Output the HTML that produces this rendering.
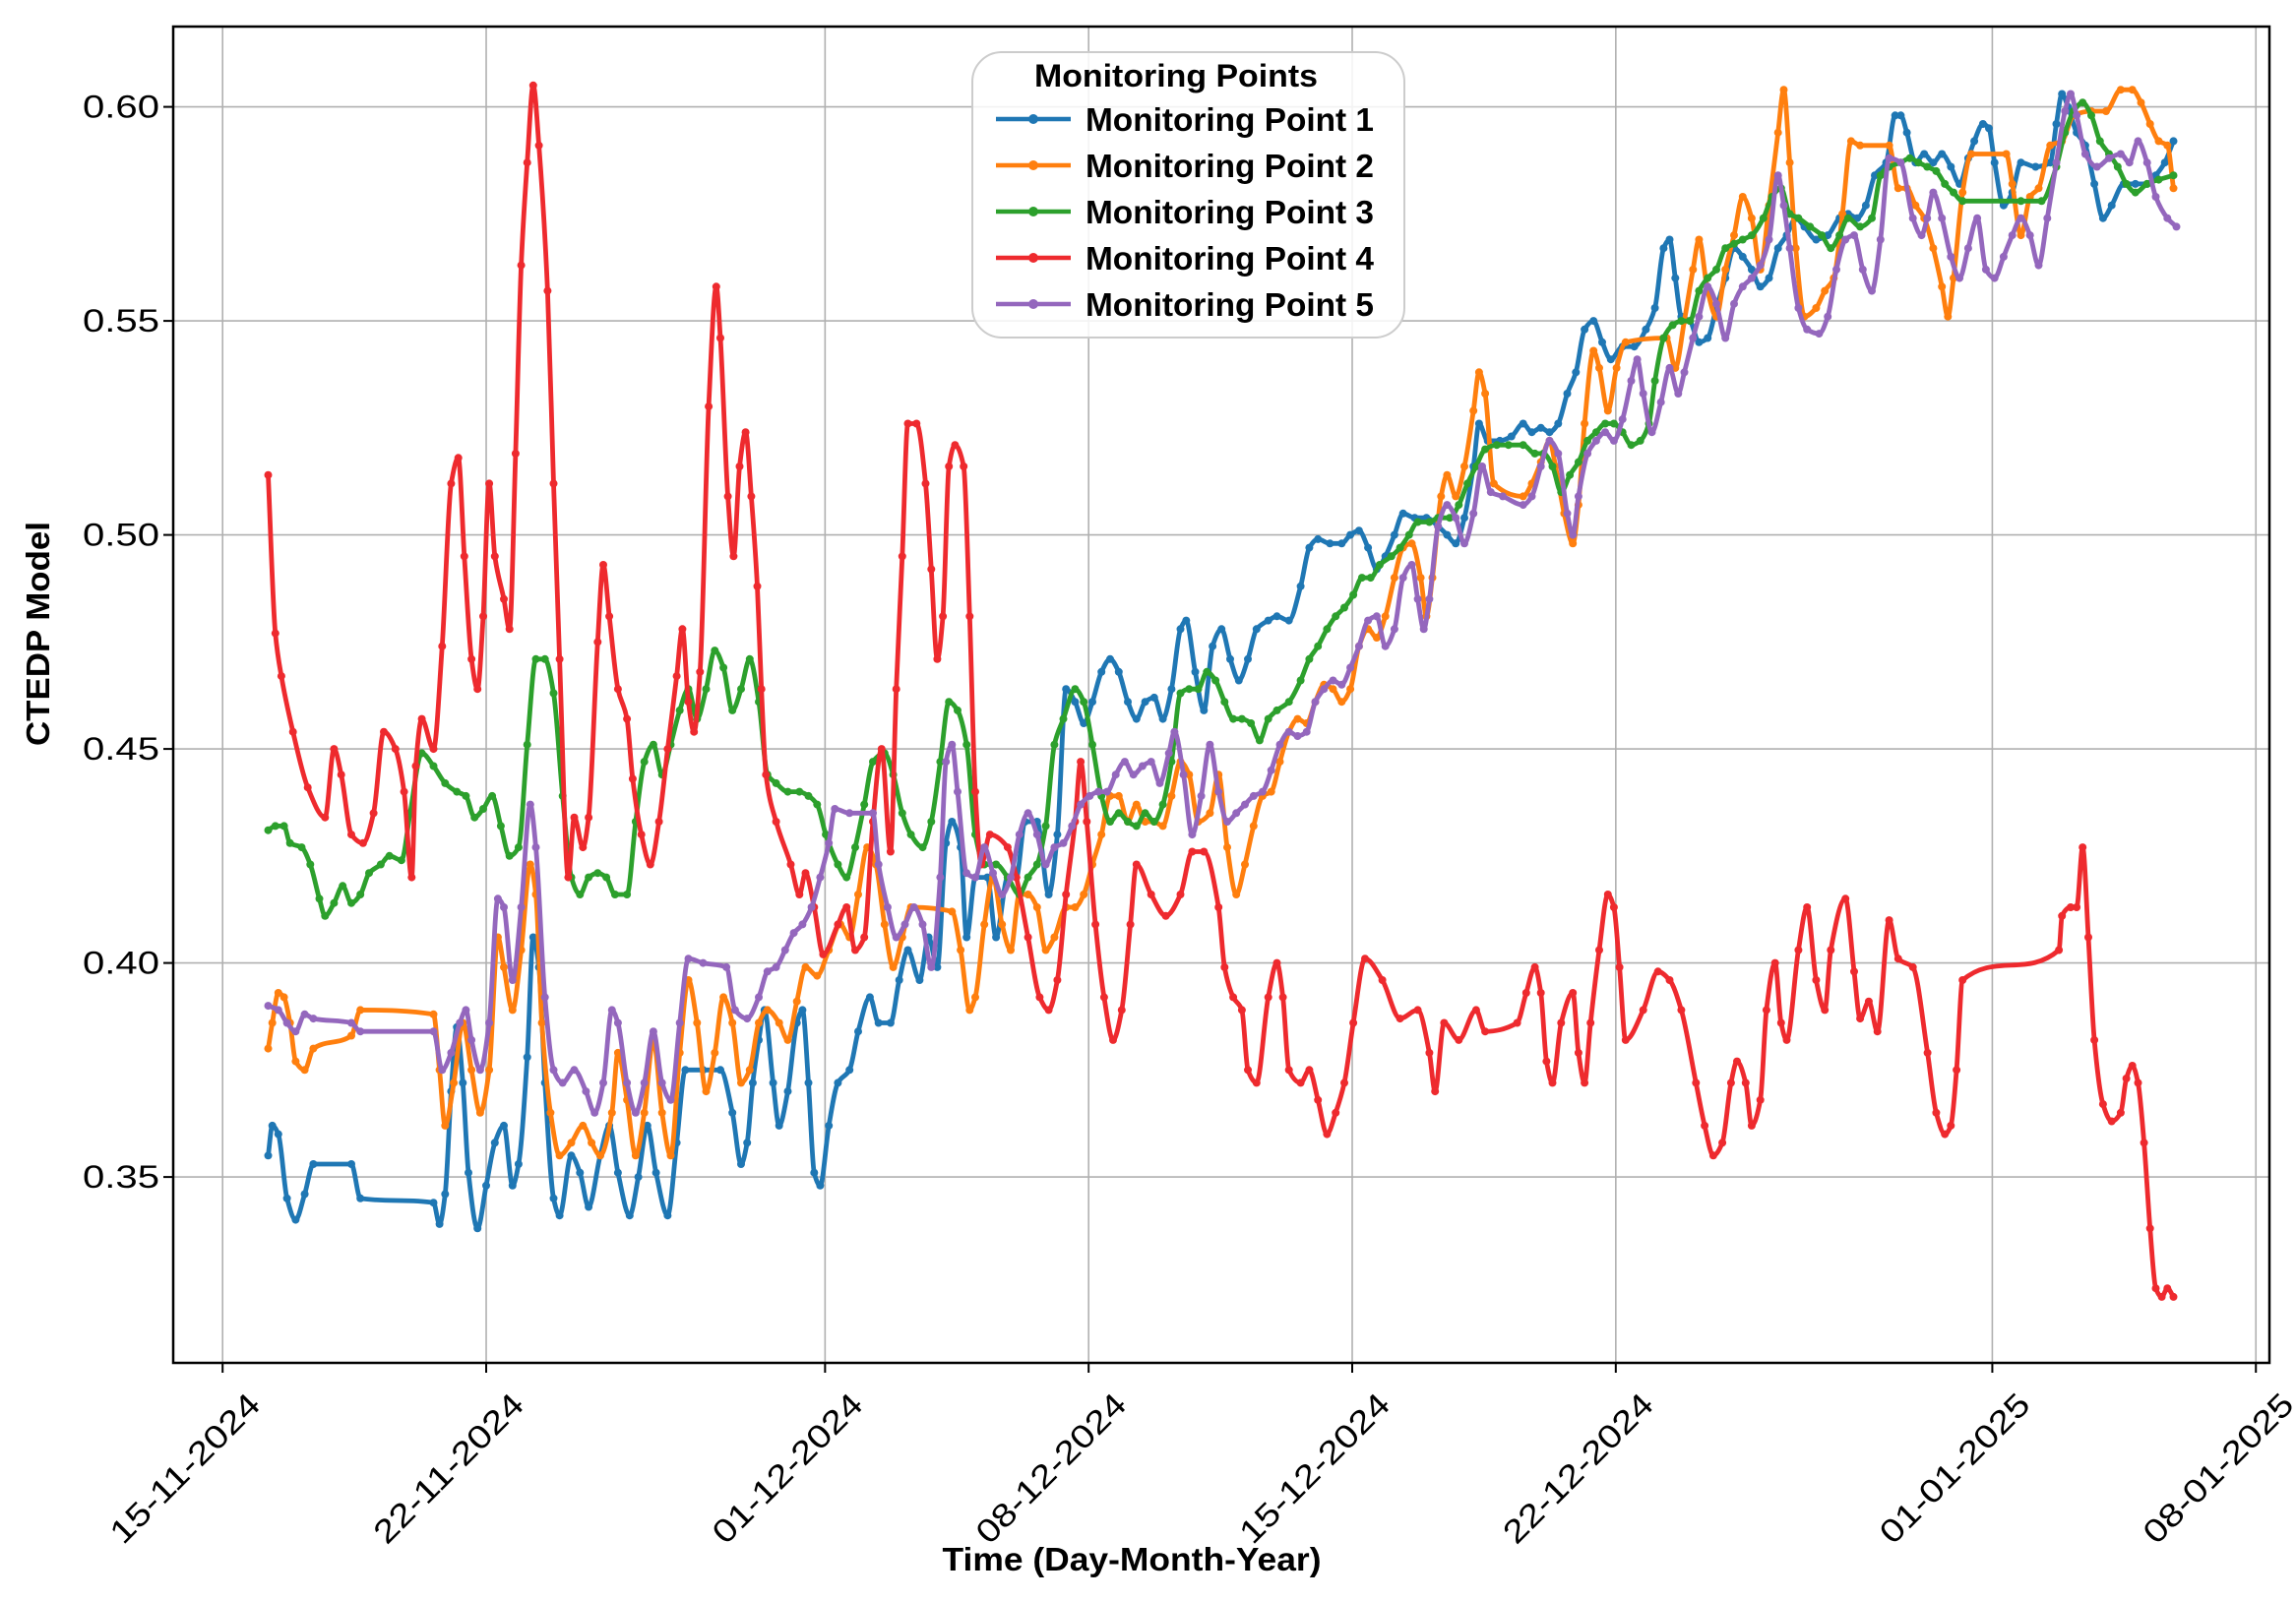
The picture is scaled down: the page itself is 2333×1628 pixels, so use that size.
<!DOCTYPE html>
<html><head><meta charset="utf-8"><title>CTEDP Model</title>
<style>html,body{margin:0;padding:0;background:#fff}svg{display:block;font-family:"Liberation Sans",sans-serif}</style>
</head><body>
<svg id="chart" width="2333" height="1628" viewBox="0 0 2333 1628" xmlns="http://www.w3.org/2000/svg">
<rect x="0" y="0" width="2333" height="1628" fill="#fff"/>
<g id="grid"></g>
<g id="series"></g>
<rect x="176" y="27" width="2130" height="1358" fill="none" stroke="#000" stroke-width="2.5"/>
<g id="axes"></g>
<text x="1150" y="1596" text-anchor="middle" font-size="33" font-weight="bold" textLength="385" lengthAdjust="spacingAndGlyphs">Time (Day-Month-Year)</text>
<text transform="translate(50,644) rotate(-90)" text-anchor="middle" font-size="33" font-weight="bold" textLength="228" lengthAdjust="spacingAndGlyphs">CTEDP Model</text>
<g id="legend">
<rect x="988" y="53" width="439" height="290" rx="30" fill="#fff" fill-opacity="0.85" stroke="#ccc" stroke-width="2"/>
<text x="1051" y="88" font-size="32" font-weight="bold" textLength="288" lengthAdjust="spacingAndGlyphs">Monitoring Points</text>
</g>
</svg>
<script>
const dateTickLabels=["15-11-2024","22-11-2024","01-12-2024","08-12-2024","15-12-2024","22-12-2024","01-01-2025","08-01-2025"];
const dateTickDays=[0,7,16,23,30,37,47,54];
const valueTicks=[0.35,0.40,0.45,0.50,0.55,0.60];
const seriesNames=["Monitoring Point 1","Monitoring Point 2","Monitoring Point 3","Monitoring Point 4","Monitoring Point 5"];
const seriesColors=["#1f77b4","#ff7f0e","#2ca02c","#ee2a2e","#9467bd"];

const mp1Days=[1.21,1.32,1.48,1.71,1.94,2.18,2.41,3.42,3.66,5.60,5.76,5.91,6.07,6.22,6.38,6.53,6.77,7.00,7.23,7.47,7.70,7.86,8.09,8.25,8.40,8.56,8.79,8.95,9.26,9.49,9.72,10.03,10.27,10.50,10.81,11.04,11.28,11.51,11.82,12.06,12.29,12.76,13.22,13.54,13.77,13.93,14.08,14.24,14.39,14.62,14.78,15.01,15.25,15.40,15.56,15.71,15.87,16.10,16.34,16.65,16.88,17.19,17.42,17.74,17.97,18.20,18.51,18.75,18.98,19.21,19.37,19.60,19.76,19.99,20.31,20.54,20.85,21.08,21.31,21.63,21.94,22.17,22.40,22.64,22.87,23.10,23.34,23.57,23.80,24.04,24.27,24.50,24.74,24.97,25.20,25.44,25.59,25.83,26.06,26.29,26.53,26.76,26.99,27.23,27.46,27.77,28.00,28.32,28.63,28.86,29.09,29.41,29.72,29.95,30.18,30.42,30.65,30.88,31.12,31.35,31.66,31.97,32.28,32.52,32.75,32.98,33.22,33.37,33.60,33.92,34.23,34.54,34.77,35.01,35.24,35.47,35.71,35.94,36.17,36.41,36.64,36.87,37.18,37.49,37.80,38.04,38.27,38.43,38.58,38.74,38.97,39.21,39.44,39.67,39.91,40.14,40.37,40.61,40.84,41.07,41.31,41.54,41.78,42.01,42.32,42.63,42.94,43.17,43.41,43.64,43.88,44.18,44.42,44.57,44.73,44.96,45.19,45.43,45.66,45.90,46.13,46.36,46.52,46.75,46.91,47.06,47.30,47.53,47.76,48.15,48.54,48.70,48.85,49.01,49.24,49.47,49.71,49.94,50.17,50.49,50.80,51.11,51.34,51.58,51.81];
const mp1Values=[.355,.362,.360,.345,.340,.346,.353,.353,.345,.344,.339,.346,.370,.385,.372,.351,.338,.348,.358,.362,.348,.353,.378,.406,.399,.372,.345,.341,.355,.351,.343,.355,.362,.351,.341,.350,.362,.351,.341,.358,.375,.375,.375,.365,.353,.358,.372,.382,.389,.372,.362,.370,.386,.389,.372,.351,.348,.362,.372,.375,.384,.392,.386,.386,.396,.403,.396,.406,.399,.428,.433,.427,.406,.420,.420,.406,.420,.420,.433,.433,.416,.430,.464,.461,.456,.461,.468,.471,.468,.461,.457,.461,.462,.457,.464,.478,.480,.468,.459,.474,.478,.471,.466,.471,.478,.480,.481,.480,.488,.497,.499,.498,.498,.500,.501,.497,.492,.495,.500,.505,.504,.504,.502,.500,.498,.504,.516,.526,.522,.522,.523,.526,.524,.525,.524,.526,.533,.538,.548,.550,.545,.541,.544,.544,.548,.553,.567,.569,.560,.551,.550,.545,.546,.553,.560,.567,.565,.562,.558,.560,.567,.570,.574,.572,.569,.570,.574,.575,.574,.577,.584,.587,.598,.598,.594,.587,.589,.587,.589,.586,.582,.588,.592,.596,.595,.587,.577,.580,.587,.586,.587,.596,.603,.600,.594,.591,.582,.574,.577,.582,.582,.582,.584,.587,.592];

const mp2Days=[1.21,1.32,1.48,1.63,1.79,1.94,2.18,2.41,3.42,3.66,5.60,5.76,5.91,6.14,6.38,6.61,6.84,7.08,7.31,7.47,7.70,7.93,8.17,8.32,8.48,8.71,8.95,9.26,9.57,9.80,10.03,10.34,10.50,10.74,10.97,11.20,11.44,11.67,11.90,12.14,12.37,12.60,12.84,13.07,13.30,13.54,13.77,14.00,14.24,14.47,14.78,15.01,15.25,15.48,15.79,16.10,16.41,16.65,16.88,17.12,17.35,17.58,17.81,18.05,18.28,19.37,19.60,19.84,19.99,20.23,20.46,20.70,20.93,21.16,21.39,21.63,21.86,22.09,22.40,22.64,22.87,23.10,23.34,23.57,23.80,24.04,24.27,24.50,24.74,24.97,25.20,25.44,25.67,25.91,26.22,26.45,26.68,26.92,27.15,27.38,27.62,27.85,28.08,28.32,28.55,28.79,29.02,29.25,29.49,29.72,29.95,30.18,30.42,30.65,30.88,31.12,31.35,31.58,31.82,31.97,32.13,32.36,32.52,32.75,32.98,33.22,33.37,33.53,33.76,34.54,34.77,35.01,35.24,35.40,35.63,35.86,36.01,36.17,36.41,36.56,36.79,37.02,37.26,38.35,38.58,38.82,39.05,39.21,39.44,39.67,39.91,40.14,40.37,40.61,40.84,41.07,41.31,41.46,41.62,41.78,42.01,42.32,42.55,42.79,43.02,43.25,43.49,44.26,44.50,44.73,44.96,45.19,45.43,45.66,45.82,45.97,46.21,46.44,47.37,47.53,47.76,48.00,48.23,48.54,48.85,49.16,49.63,50.02,50.41,50.72,50.95,51.19,51.42,51.65,51.81];
const mp2Values=[.380,.386,.393,.392,.386,.377,.375,.380,.383,.389,.388,.375,.362,.372,.386,.375,.365,.375,.406,.399,.389,.403,.423,.416,.386,.365,.355,.358,.362,.358,.355,.365,.379,.368,.355,.365,.382,.365,.355,.379,.396,.386,.370,.379,.392,.386,.372,.375,.386,.389,.386,.382,.391,.399,.397,.403,.409,.406,.416,.427,.423,.409,.399,.406,.413,.412,.403,.389,.392,.409,.420,.409,.403,.416,.416,.413,.403,.406,.413,.413,.416,.423,.430,.439,.439,.433,.437,.433,.433,.432,.439,.447,.444,.433,.435,.444,.427,.416,.423,.432,.439,.440,.447,.454,.457,.456,.461,.465,.464,.461,.464,.474,.478,.476,.481,.490,.497,.498,.490,.481,.490,.509,.514,.509,.516,.529,.538,.533,.512,.509,.512,.517,.522,.516,.505,.498,.507,.526,.543,.539,.529,.539,.545,.546,.539,.550,.562,.569,.557,.551,.562,.570,.579,.574,.562,.577,.594,.604,.587,.567,.551,.553,.557,.560,.575,.592,.591,.591,.581,.581,.577,.574,.567,.558,.551,.560,.580,.589,.589,.582,.570,.579,.581,.591,.592,.598,.599,.599,.604,.604,.601,.596,.592,.591,.581];

const mp3Days=[1.21,1.40,1.63,1.79,2.10,2.33,2.57,2.72,2.96,3.19,3.42,3.66,3.89,4.20,4.43,4.75,4.98,5.29,5.60,5.91,6.22,6.46,6.69,6.92,7.16,7.39,7.62,7.86,8.09,8.32,8.56,8.79,9.03,9.26,9.49,9.72,9.96,10.19,10.42,10.74,10.97,11.20,11.44,11.67,11.90,12.14,12.37,12.60,12.84,13.07,13.30,13.54,13.77,14.00,14.24,14.47,14.70,15.01,15.32,15.56,15.79,16.02,16.34,16.57,16.80,17.04,17.27,17.58,17.81,18.05,18.28,18.59,18.82,19.06,19.29,19.52,19.76,19.99,20.23,20.54,20.85,21.16,21.39,21.63,21.86,22.09,22.33,22.64,22.87,23.10,23.34,23.57,23.80,24.04,24.27,24.50,24.74,24.97,25.20,25.44,25.67,25.91,26.14,26.37,26.61,26.84,27.07,27.31,27.54,27.77,28.00,28.32,28.63,28.86,29.09,29.33,29.56,29.79,30.03,30.26,30.49,30.73,31.04,31.27,31.51,31.74,32.05,32.28,32.59,32.83,33.06,33.29,33.53,33.84,34.15,34.54,34.85,35.08,35.32,35.55,35.78,36.01,36.25,36.48,36.72,36.95,37.18,37.41,37.65,37.88,38.04,38.27,38.51,38.74,38.97,39.21,39.44,39.67,39.91,40.14,40.37,40.61,40.92,41.15,41.39,41.62,41.85,42.16,42.47,42.71,42.94,43.17,43.49,43.80,44.03,44.26,44.57,44.81,45.04,45.27,45.51,45.74,45.97,46.21,47.76,48.31,48.70,48.93,49.16,49.40,49.63,49.86,50.10,50.33,50.56,50.80,51.11,51.42,51.81];
const mp3Values=[.431,.432,.432,.428,.427,.423,.415,.411,.414,.418,.414,.416,.421,.423,.425,.424,.435,.449,.446,.442,.440,.439,.434,.436,.439,.432,.425,.427,.451,.471,.471,.463,.439,.420,.416,.420,.421,.420,.416,.416,.433,.447,.451,.444,.451,.459,.464,.457,.464,.473,.469,.459,.464,.471,.461,.444,.442,.440,.440,.439,.437,.430,.423,.420,.427,.437,.447,.449,.444,.435,.430,.427,.433,.447,.461,.459,.451,.430,.423,.423,.420,.416,.420,.423,.432,.451,.457,.464,.461,.451,.439,.433,.435,.433,.432,.435,.433,.437,.447,.463,.464,.464,.468,.466,.461,.457,.457,.456,.452,.457,.459,.461,.466,.471,.474,.478,.481,.483,.486,.490,.490,.493,.495,.497,.500,.503,.503,.504,.504,.507,.512,.516,.520,.521,.521,.521,.519,.519,.516,.510,.514,.517,.522,.524,.526,.526,.524,.521,.522,.526,.536,.546,.549,.550,.550,.557,.560,.562,.567,.568,.569,.570,.574,.579,.581,.575,.574,.572,.570,.567,.570,.574,.572,.574,.584,.586,.587,.588,.587,.586,.585,.582,.580,.578,.578,.578,.586,.594,.599,.601,.598,.592,.589,.586,.582,.580,.582,.583,.584];

const mp4Days=[1.21,1.40,1.56,1.87,2.26,2.72,2.96,3.15,3.42,3.73,4.01,4.28,4.59,4.82,5.02,5.13,5.29,5.60,5.83,6.07,6.26,6.42,6.61,6.77,6.92,7.08,7.23,7.47,7.62,7.78,7.93,8.09,8.25,8.40,8.63,8.79,8.95,9.18,9.34,9.57,9.72,9.96,10.11,10.27,10.50,10.74,10.89,11.12,11.36,11.59,11.82,12.06,12.21,12.37,12.52,12.68,12.91,13.11,13.22,13.42,13.57,13.73,13.89,14.04,14.20,14.31,14.43,14.70,15.09,15.32,15.48,15.71,15.95,16.34,16.57,16.80,17.04,17.27,17.50,17.74,17.89,18.05,18.20,18.43,18.67,18.82,18.98,19.13,19.29,19.45,19.68,19.84,19.99,20.15,20.38,20.85,21.08,21.39,21.70,21.94,22.17,22.40,22.64,22.79,22.95,23.18,23.41,23.65,23.88,24.11,24.27,24.66,25.05,25.44,25.75,26.06,26.45,26.61,26.84,27.07,27.23,27.46,27.77,28.00,28.16,28.32,28.63,28.86,29.09,29.33,29.56,29.79,30.03,30.34,30.80,31.27,31.74,32.05,32.20,32.44,32.83,33.29,33.53,34.38,34.62,34.85,35.01,35.16,35.32,35.55,35.86,36.01,36.17,36.33,36.56,36.79,36.95,37.10,37.26,37.73,38.12,38.43,38.74,39.13,39.36,39.59,39.83,40.06,40.22,40.45,40.61,40.84,41.00,41.23,41.39,41.54,41.85,42.08,42.32,42.55,42.71,43.10,43.33,43.49,43.72,43.95,44.26,44.50,44.89,45.28,45.51,45.74,45.90,46.05,46.21,48.77,48.85,49.08,49.24,49.40,49.55,49.71,49.94,50.17,50.41,50.56,50.72,50.87,51.03,51.19,51.34,51.50,51.65,51.81];
const mp4Values=[.514,.477,.467,.454,.441,.434,.450,.444,.430,.428,.435,.454,.450,.440,.420,.446,.457,.450,.474,.512,.518,.495,.471,.464,.481,.512,.495,.485,.478,.519,.563,.587,.605,.591,.557,.512,.471,.420,.434,.427,.434,.475,.493,.481,.464,.457,.443,.430,.423,.433,.450,.467,.478,.461,.454,.468,.530,.558,.546,.509,.495,.516,.524,.509,.488,.464,.444,.433,.423,.416,.421,.413,.402,.409,.413,.403,.406,.433,.450,.426,.464,.495,.526,.526,.512,.492,.471,.481,.516,.521,.516,.481,.440,.423,.430,.427,.420,.406,.392,.389,.396,.416,.433,.447,.433,.409,.392,.382,.389,.409,.423,.416,.411,.416,.426,.426,.413,.399,.392,.389,.375,.372,.392,.400,.392,.375,.372,.375,.368,.360,.365,.372,.386,.401,.396,.387,.389,.379,.370,.386,.382,.389,.384,.386,.393,.399,.393,.377,.372,.386,.393,.379,.372,.386,.403,.416,.413,.399,.382,.389,.398,.396,.389,.372,.362,.355,.358,.372,.377,.372,.362,.368,.389,.400,.386,.382,.403,.413,.396,.389,.403,.415,.398,.387,.391,.384,.410,.401,.399,.379,.365,.360,.362,.375,.396,.403,.411,.413,.413,.427,.406,.382,.367,.363,.365,.373,.376,.372,.358,.338,.324,.322,.324,.322];

const mp5Days=[1.21,1.48,1.71,1.94,2.18,2.41,3.42,3.66,5.60,5.83,6.07,6.30,6.46,6.61,6.84,7.08,7.31,7.47,7.70,7.93,8.17,8.32,8.56,8.79,9.03,9.34,9.65,9.88,10.11,10.34,10.50,10.74,10.97,11.20,11.44,11.67,11.90,12.14,12.37,12.76,13.38,13.61,13.93,14.24,14.47,14.70,14.94,15.17,15.40,15.64,15.87,16.10,16.26,16.65,17.27,17.42,17.66,17.89,18.12,18.36,18.59,18.82,19.06,19.21,19.37,19.52,19.76,19.99,20.23,20.46,20.70,20.93,21.16,21.39,21.63,21.86,22.09,22.33,22.56,22.79,23.03,23.26,23.49,23.72,23.96,24.19,24.43,24.66,24.89,25.13,25.28,25.52,25.75,25.99,26.22,26.45,26.68,26.92,27.15,27.38,27.62,27.85,28.08,28.32,28.55,28.79,29.02,29.25,29.49,29.72,29.95,30.18,30.42,30.65,30.88,31.12,31.35,31.58,31.74,31.90,32.05,32.28,32.52,32.75,32.98,33.22,33.45,33.68,34.00,34.54,34.77,35.01,35.24,35.47,35.71,35.86,36.01,36.25,36.48,36.72,36.95,37.18,37.41,37.57,37.73,37.96,38.20,38.43,38.66,38.82,39.05,39.21,39.44,39.67,39.91,40.14,40.37,40.61,40.84,41.07,41.31,41.46,41.62,41.85,42.08,42.40,42.63,42.86,43.10,43.33,43.56,43.80,44.03,44.26,44.57,44.89,45.12,45.27,45.43,45.66,45.90,46.13,46.36,46.60,46.83,47.06,47.30,47.53,47.76,48.00,48.23,48.46,48.70,48.93,49.08,49.24,49.47,49.78,50.10,50.41,50.64,50.87,51.11,51.34,51.65,51.89];
const mp5Values=[.390,.389,.386,.384,.388,.387,.386,.384,.384,.375,.379,.386,.389,.382,.375,.386,.415,.413,.396,.413,.437,.427,.392,.375,.372,.375,.370,.365,.372,.389,.386,.372,.365,.372,.384,.372,.368,.386,.401,.400,.399,.389,.387,.392,.398,.399,.403,.407,.409,.413,.420,.428,.436,.435,.435,.423,.413,.406,.409,.413,.409,.399,.420,.447,.451,.440,.421,.420,.427,.421,.416,.420,.430,.435,.430,.423,.427,.428,.432,.437,.439,.440,.440,.444,.447,.444,.446,.447,.442,.449,.454,.444,.430,.439,.451,.440,.433,.435,.437,.439,.440,.445,.451,.454,.453,.454,.461,.464,.466,.465,.469,.474,.480,.481,.474,.478,.490,.493,.485,.478,.485,.502,.507,.504,.498,.505,.516,.510,.509,.507,.509,.516,.522,.519,.505,.500,.509,.519,.522,.524,.522,.527,.536,.541,.533,.524,.531,.539,.533,.538,.546,.551,.558,.554,.546,.554,.558,.560,.563,.569,.584,.577,.567,.553,.548,.547,.551,.562,.569,.570,.562,.557,.569,.588,.587,.574,.570,.574,.580,.574,.565,.560,.567,.574,.562,.560,.565,.570,.574,.570,.563,.574,.587,.599,.603,.598,.589,.586,.588,.589,.587,.592,.587,.579,.574,.572];

const allDays=[mp1Days,mp2Days,mp3Days,mp4Days,mp5Days];
const allValues=[mp1Values,mp2Values,mp3Values,mp4Values,mp5Values];

const NS="http://www.w3.org/2000/svg";
const X0=226.2, DAYPX=38.26, L=176, R=2306, T=27, B=1385;
function xScale(d){return X0+d*DAYPX;}
function yScale(v){return 108.6+(0.60-v)/0.05*217.5;}
function mk(tag,attrs,parent){const e=document.createElementNS(NS,tag);for(const k in attrs)e.setAttribute(k,attrs[k]);parent.appendChild(e);return e;}
const grid=document.getElementById('grid'),axes=document.getElementById('axes'),ser=document.getElementById('series'),leg=document.getElementById('legend');

dateTickDays.forEach((d,i)=>{
  const x=xScale(d);
  const g=mk('line',{x1:x,x2:x,y1:T,y2:B,stroke:'#b0b0b0','stroke-width':1.6},grid);
  
  
  const t=mk('line',{x1:x,x2:x,y1:B,y2:B+10,stroke:'#000','stroke-width':2},axes);
  
  
  const tx=mk('text',{x:0,y:0,'font-size':33,'text-anchor':'end',textLength:200,lengthAdjust:'spacingAndGlyphs',transform:`translate(${x+24},${B+28}) rotate(-45)`,dy:'0.7em'},axes);
  tx.textContent=dateTickLabels[i];
  
  
});
valueTicks.forEach(v=>{
  const y=yScale(v);
  const g=mk('line',{x1:L,x2:R,y1:y,y2:y,stroke:'#b0b0b0','stroke-width':1.6},grid);
  
  
  const t=mk('line',{x1:L-10,x2:L,y1:y,y2:y,stroke:'#000','stroke-width':2},axes);
  
  
  const tx=mk('text',{x:L-14,y:y+11,'font-size':32,'text-anchor':'end',textLength:78,lengthAdjust:'spacingAndGlyphs'},axes);
  tx.textContent=v.toFixed(2);
  
  
});

// monotone cubic (Fritsch-Carlson) in x to avoid overshoot on uneven spacing
function smoothPath(pts){
  const n=pts.length, dx=[], sl=[], m=[];
  for(let i=0;i<n-1;i++){dx[i]=pts[i+1][0]-pts[i][0];sl[i]=(pts[i+1][1]-pts[i][1])/dx[i];}
  m[0]=sl[0];m[n-1]=sl[n-2];
  for(let i=1;i<n-1;i++){
    if(sl[i-1]*sl[i]<=0)m[i]=0;
    else{const w1=2*dx[i]+dx[i-1],w2=dx[i]+2*dx[i-1];m[i]=(w1+w2)/(w1/sl[i-1]+w2/sl[i]);}
  }
  let d=`M${pts[0][0].toFixed(1)},${pts[0][1].toFixed(1)}`;
  for(let i=0;i<n-1;i++){
    const h=dx[i]/3;
    d+=` C${(pts[i][0]+h).toFixed(1)},${(pts[i][1]+m[i]*h).toFixed(1)} ${(pts[i+1][0]-h).toFixed(1)},${(pts[i+1][1]-m[i+1]*h).toFixed(1)} ${pts[i+1][0].toFixed(1)},${pts[i+1][1].toFixed(1)}`;
  }
  return d;
}
allDays.forEach((days,s)=>{
  const g=mk('g',{},ser);
  
  
  const pts=days.map((d,i)=>[xScale(d),yScale(allValues[s][i])]);
  const p=mk('path',{d:smoothPath(pts),fill:'none',stroke:seriesColors[s],'stroke-width':4.8,'stroke-linejoin':'round'},g);
  
  
  pts.forEach(q=>{
    const c=mk('circle',{cx:q[0].toFixed(1),cy:q[1].toFixed(1),r:4,fill:seriesColors[s]},g);
    
    
  });
});
seriesNames.forEach((n,i)=>{
  const y=121+i*47;
  const l=mk('line',{x1:1012,x2:1088,y1:y,y2:y,stroke:seriesColors[i],'stroke-width':4.5},leg);
  
  
  const c=mk('circle',{cx:1050,cy:y,r:5,fill:seriesColors[i]},leg);
  
  
  const t=mk('text',{x:1103,y:y+12,'font-size':33,'font-weight':'bold',textLength:293,lengthAdjust:'spacingAndGlyphs'},leg);
  t.textContent=n;
  
  
});
</script>
</body></html>
